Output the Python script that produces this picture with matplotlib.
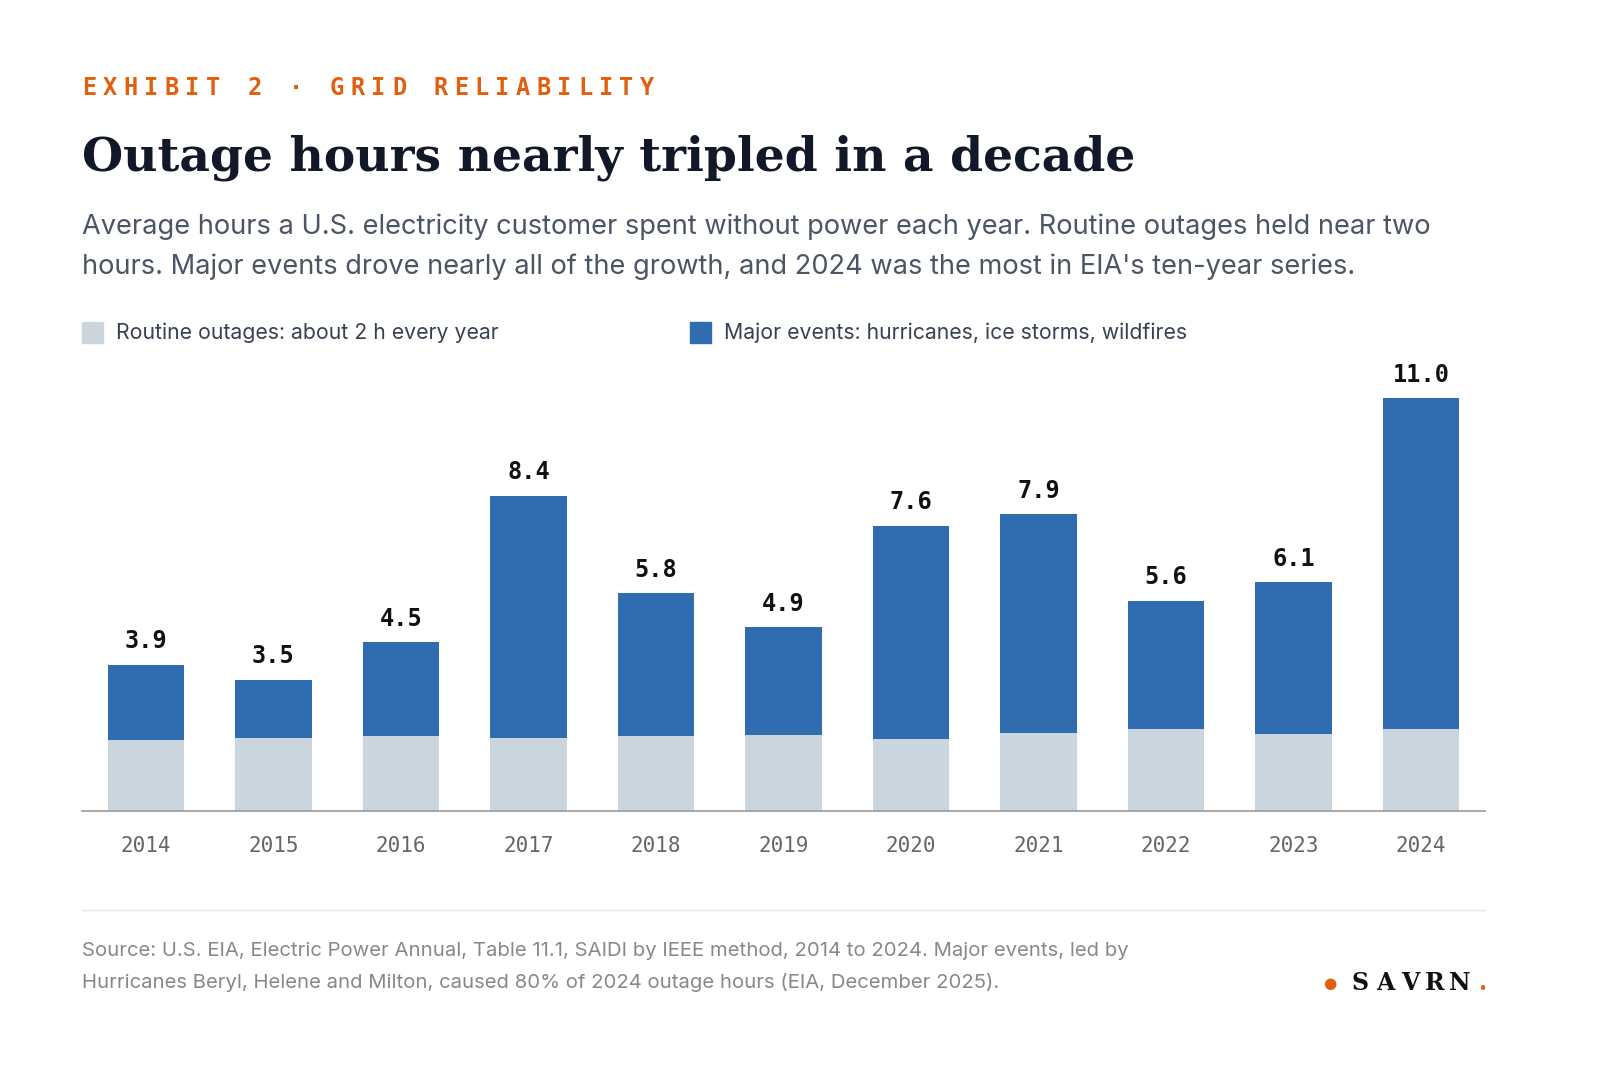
import matplotlib
matplotlib.use("Agg")
import matplotlib.pyplot as plt
from matplotlib.patches import Rectangle

years = ["2014","2015","2016","2017","2018","2019","2020","2021","2022","2023","2024"]
totals = [3.9,3.5,4.5,8.4,5.8,4.9,7.6,7.9,5.6,6.1,11.0]
routine = [1.89,1.94,2.0,1.94,2.0,2.02,1.92,2.08,2.18,2.05,2.18]
major = [t-r for t,r in zip(totals,routine)]

W,H = 1600,1070
fig = plt.figure(figsize=(16,10.7), dpi=100)
fig.patch.set_facecolor("white")
def fx(x): return x/W
def fy(y): return 1-y/H

ax = fig.add_axes([fx(82), fy(811), fx(1485)-fx(82), fy(370)-fy(811)])
x = range(len(years))
ax.bar(x, routine, width=0.6, color="#cbd5dd")
ax.bar(x, major, bottom=routine, width=0.6, color="#2f6db0")
for i,t in enumerate(totals):
    ax.text(i, t+0.3, f"{t:.1f}", ha="center", va="bottom", family="DejaVu Sans Mono", fontsize=17, fontweight="bold", color="#111")
ax.set_xlim(-0.5, 10.5)
ax.set_ylim(0, 11.0*(811-370)/413)
ax.set_yticks([])
ax.set_xticks(list(x))
ax.set_xticklabels(years, family="DejaVu Sans Mono", fontsize=15, color="#666")
ax.tick_params(axis="x", length=0, pad=18)
for s in ["top","left","right"]:
    ax.spines[s].set_visible(False)
ax.spines["bottom"].set_color("#999")
ax.spines["bottom"].set_linewidth(1.2)

# spaced label
label = "EXHIBIT 2 · GRID RELIABILITY"
step = (640-82)/(len(label)-1)
for k,ch in enumerate(label):
    fig.text(fx(82+k*step), fy(88), ch, family="DejaVu Sans Mono", fontsize=17, fontweight="bold", color="#e06010", va="center", ha="left")
fig.text(fx(82), fy(158), "Outage hours nearly tripled in a decade", family="DejaVu Serif", fontsize=34, fontweight="bold", color="#111827", va="center")
fig.text(fx(82), fy(227), "Average hours a U.S. electricity customer spent without power each year. Routine outages held near two", family="Inter", fontsize=19.6, color="#4b5563", va="center")
fig.text(fx(82), fy(267), "hours. Major events drove nearly all of the growth, and 2024 was the most in EIA's ten-year series.", family="Inter", fontsize=19.6, color="#4b5563", va="center")

for px, col, lab in [(82,"#cbd5dd","Routine outages: about 2 h every year"),(690,"#2f6db0","Major events: hurricanes, ice storms, wildfires")]:
    fig.patches.append(Rectangle((fx(px), fy(343)), fx(21), 21/H, color=col, transform=fig.transFigure))
    fig.text(fx(px+34), fy(333), lab, family="Inter", fontsize=15.3, color="#374151", va="center")

fig.add_artist(plt.Line2D([fx(82), fx(1485)], [fy(910), fy(910)], color="#e5e7eb", lw=1))
fig.text(fx(82), fy(951), "Source: U.S. EIA, Electric Power Annual, Table 11.1, SAIDI by IEEE method, 2014 to 2024. Major events, led by", family="Inter", fontsize=14.6, color="#888", va="center")
fig.text(fx(82), fy(983), "Hurricanes Beryl, Helene and Milton, caused 80% of 2024 outage hours (EIA, December 2025).", family="Inter", fontsize=14.6, color="#888", va="center")
fig.text(fx(1330), fy(983), "●", fontsize=11, color="#e06010", va="center", ha="center")
for k,ch in enumerate("SAVRN"):
    fig.text(fx(1360+k*25), fy(983), ch, family="DejaVu Serif", fontsize=17, fontweight="bold", color="#111", va="center", ha="center")
fig.text(fx(1482), fy(983), ".", family="DejaVu Serif", fontsize=17, fontweight="bold", color="#e06010", va="center", ha="center")

fig.savefig("out.png", dpi=100, facecolor="white")
